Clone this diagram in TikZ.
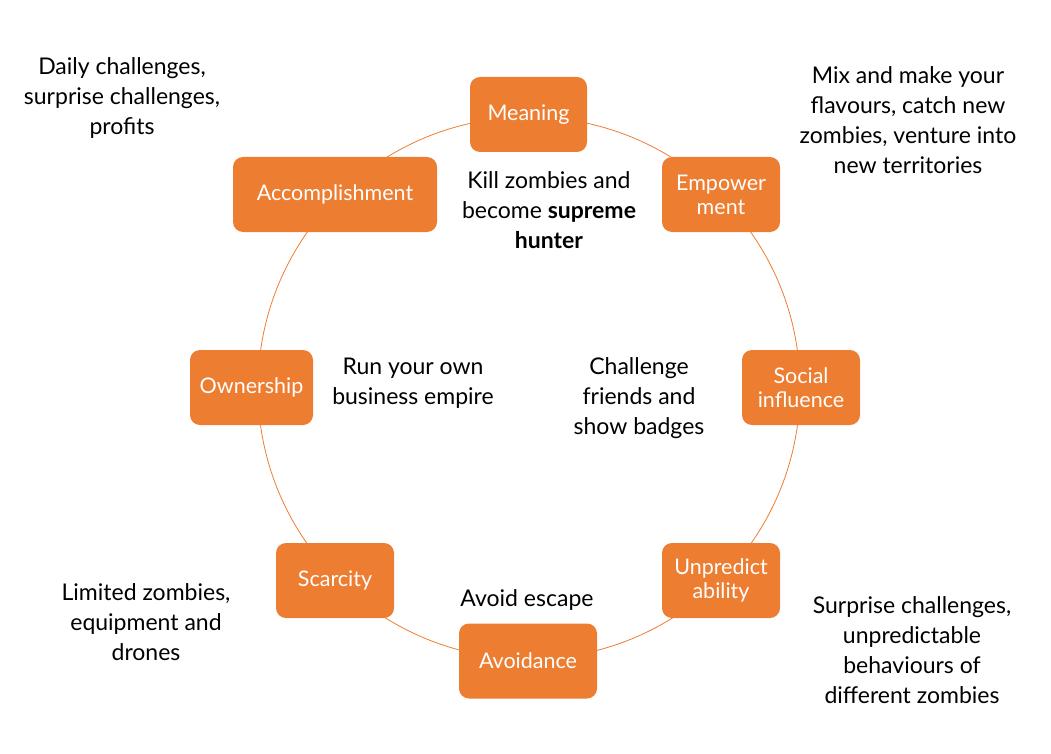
\documentclass[tikz,border=0pt]{standalone}
\usepackage{fontspec}
\setmainfont{Lato}
\definecolor{orng}{HTML}{ED7D31}
\tikzset{
  box/.style={draw=none, fill=orng, rounded corners=10pt, text=white, align=center,
    minimum height=75pt, inner sep=0pt, font=\fontsize{21.5}{24}\selectfont},
  note/.style={align=center, text=black, inner sep=0pt, font=\fontsize{23}{30}\selectfont},
  ring/.style={draw=orng, line width=0.8pt}
}
\begin{document}
\begin{tikzpicture}[x=1pt,y=-1pt]
\useasboundingbox (0,0) rectangle (1051,754);
\coordinate (c) at (529,388);
\draw[ring] (c) circle[radius=271];
\node[box, minimum width=117pt] (mean) at (528.5,114.5) {Meaning};
\node[box, minimum width=118pt] (emp) at (721,194.5) {Empower\\ment};
\node[box, minimum width=118pt] (soc) at (801,387.5) {Social\\influence};
\node[box, minimum width=118pt] (unp) at (721,580.5) {Unpredict\\ability};
\node[box, minimum width=138pt] (avo) at (528,661) {Avoidance};
\node[box, minimum width=118pt] (sca) at (335,580.5) {Scarcity};
\node[box, minimum width=123pt] (own) at (251.5,387.5) {Ownership};
\node[box, minimum width=204pt] (acc) at (335,194.5) {Accomplishment};
\node[note] (n1) at (122,98) {Daily challenges,\\surprise challenges,\\profits};
\node[note] (n2) at (908,120) {Mix and make your\\flavours, catch new\\zombies, venture into\\new territories};
\node[note] (n3) at (549,210) {Kill zombies and\\become \textbf{supreme}\\\textbf{hunter}};
\node[note] (n4) at (413,383) {Run your own\\business empire};
\node[note] (n5) at (639,398) {Challenge\\friends and\\show badges};
\node[note] (n6) at (527,600) {Avoid escape};
\node[note] (n7) at (146,622) {Limited zombies,\\equipment and\\drones};
\node[note] (n8) at (912,650) {Surprise challenges,\\unpredictable\\behaviours of\\different zombies};
\end{tikzpicture}
\end{document}
